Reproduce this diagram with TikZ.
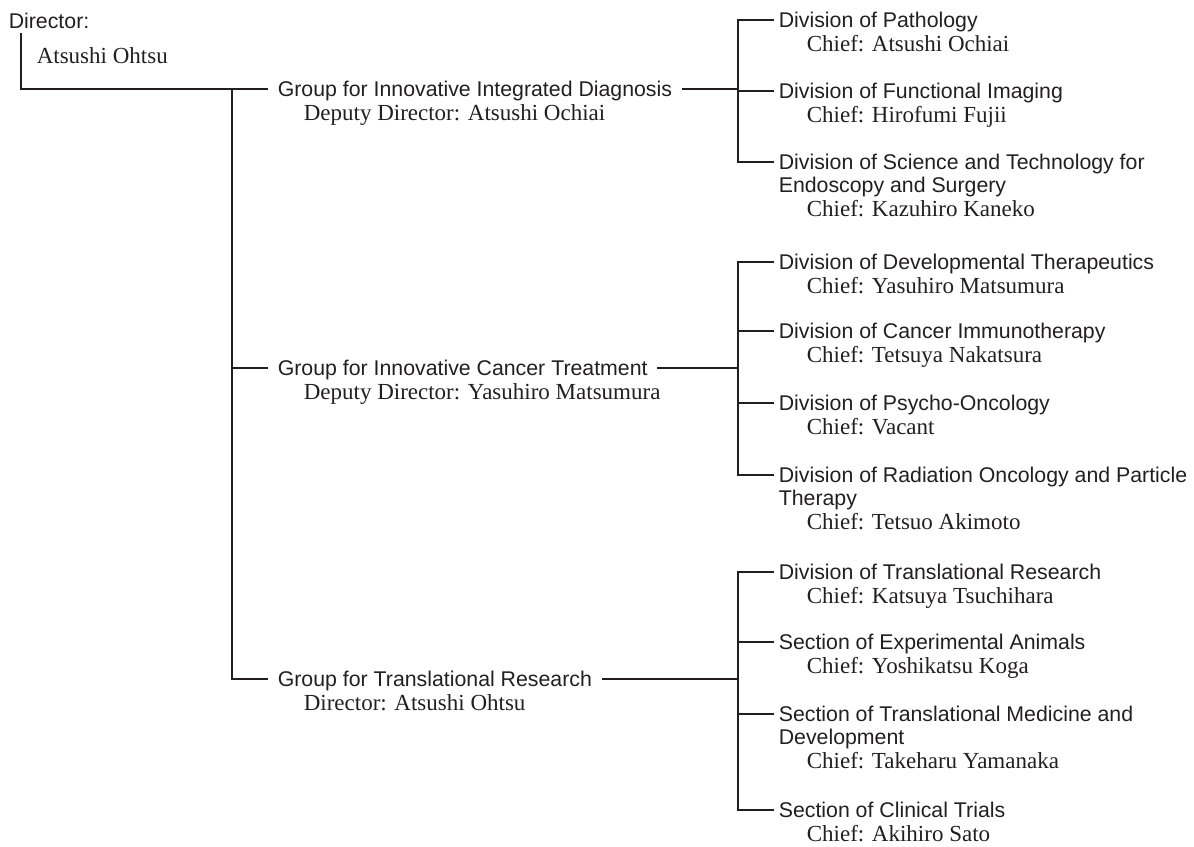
\documentclass[tikz,border=0pt]{standalone}
\usepackage{fontspec}
\setmainfont{Liberation Serif}
\setsansfont{Liberation Sans}
\usepackage{tikz}
\usetikzlibrary{positioning, calc}
\definecolor{ink}{HTML}{231F20}

\begin{document}
\begin{tikzpicture}[x=1pt, y=-1pt, line width=1.6pt, draw=ink, text=ink,
    head/.style={font=\fontsize{21.3}{23}\sffamily, inner ysep=0pt, text height=15.2pt, text depth=0pt, anchor=west},
    grp/.style={head, inner xsep=9pt},
    unit/.style={head, inner xsep=4pt},
    more/.style={font=\fontsize{21.3}{23}\sffamily, inner sep=0pt, anchor=base west},
    chief/.style={font=\fontsize{23}{25}\rmfamily, inner sep=0pt, anchor=base west}]
    \useasboundingbox (0,0) rectangle (1194,846);

    % director
    \node[head, inner sep=0pt] (dir) at (8,21) {Director:};
    \node[chief] (dirname) at (36,63) {Atsushi Ohtsu};

    % groups
    \node[grp] (g1) at (268,89) {Group for Innovative Integrated Diagnosis};
    \node[chief] (g1c) at ([shift={(35,23.5)}]g1.base west) {Deputy Director: Atsushi Ochiai};
    \node[grp] (g2) at (268,368) {Group for Innovative Cancer Treatment};
    \node[chief] (g2c) at ([shift={(35,23.5)}]g2.base west) {Deputy Director: Yasuhiro Matsumura};
    \node[grp] (g3) at (268,679) {Group for Translational Research};
    \node[chief] (g3c) at ([shift={(35,23.5)}]g3.base west) {Director: Atsushi Ohtsu};

    % first group
    \node[unit] (d1a) at (774,20) {Division of Pathology};
    \node[chief] (c1a) at ([shift={(32,23.5)}]d1a.base west) {Chief: Atsushi Ochiai};
    \node[unit] (d1b) at (774,91) {Division of Functional Imaging};
    \node[chief] (c1b) at ([shift={(32,23.5)}]d1b.base west) {Chief: Hirofumi Fujii};
    \node[unit] (d1c) at (774,162) {Division of Science and Technology for};
    \node[more] (e1c) at ([shift={(4,23)}]d1c.base west) {Endoscopy and Surgery};
    \node[chief] (c1c) at ([shift={(28,23.5)}]e1c.base west) {Chief: Kazuhiro Kaneko};

    % second group
    \node[unit] (d2a) at (774,262) {Division of Developmental Therapeutics};
    \node[chief] (c2a) at ([shift={(32,23.5)}]d2a.base west) {Chief: Yasuhiro Matsumura};
    \node[unit] (d2b) at (774,331) {Division of Cancer Immunotherapy};
    \node[chief] (c2b) at ([shift={(32,23.5)}]d2b.base west) {Chief: Tetsuya Nakatsura};
    \node[unit] (d2c) at (774,403) {Division of Psycho-Oncology};
    \node[chief] (c2c) at ([shift={(32,23.5)}]d2c.base west) {Chief: Vacant};
    \node[unit] (d2d) at (774,475) {Division of Radiation Oncology and Particle};
    \node[more] (e2d) at ([shift={(4,23)}]d2d.base west) {Therapy};
    \node[chief] (c2d) at ([shift={(28,23.5)}]e2d.base west) {Chief: Tetsuo Akimoto};

    % third group
    \node[unit] (d3a) at (774,572) {Division of Translational Research};
    \node[chief] (c3a) at ([shift={(32,23.5)}]d3a.base west) {Chief: Katsuya Tsuchihara};
    \node[unit] (d3b) at (774,642) {Section of Experimental Animals};
    \node[chief] (c3b) at ([shift={(32,23.5)}]d3b.base west) {Chief: Yoshikatsu Koga};
    \node[unit] (d3c) at (774,714) {Section of Translational Medicine and};
    \node[more] (e3c) at ([shift={(4,23)}]d3c.base west) {Development};
    \node[chief] (c3c) at ([shift={(28,23.5)}]e3c.base west) {Chief: Takeharu Yamanaka};
    \node[unit] (d3d) at (774,810) {Section of Clinical Trials};
    \node[chief] (c3d) at ([shift={(32,23.5)}]d3d.base west) {Chief: Akihiro Sato};

    % lines
    \coordinate (root) at (21,33);
    \coordinate (trunk) at (232,89);
    \coordinate (b1) at (738,89);
    \coordinate (b2) at (738,368);
    \coordinate (b3) at (738,679);

    \draw (root) |- (g1.west);
    \draw (trunk) |- (g3.west);
    \draw (trunk |- g2.west) -- (g2.west);

    \draw (g1.east) -- (b1);
    \draw (d1a.west) -| (b1) |- (d1c.west);
    \draw (b1 |- d1b.west) -- (d1b.west);

    \draw (g2.east) -- (b2);
    \draw (d2a.west) -| (b2) |- (d2d.west);
    \draw (b2 |- d2b.west) -- (d2b.west);
    \draw (b2 |- d2c.west) -- (d2c.west);

    \draw (g3.east) -- (b3);
    \draw (d3a.west) -| (b3) |- (d3d.west);
    \draw (b3 |- d3b.west) -- (d3b.west);
    \draw (b3 |- d3c.west) -- (d3c.west);
\end{tikzpicture}
\end{document}
